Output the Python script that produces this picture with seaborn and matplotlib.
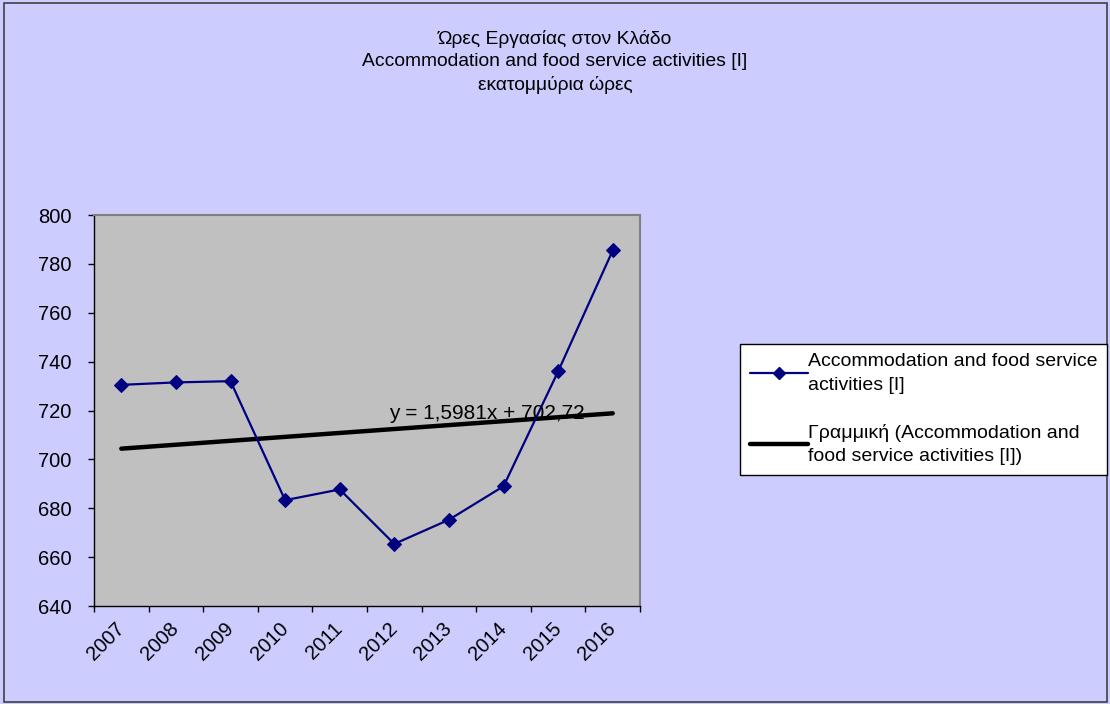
import numpy as np
import pandas as pd
import matplotlib
matplotlib.use("Agg")
import matplotlib.pyplot as plt
import seaborn as sns
from matplotlib.lines import Line2D
from matplotlib.patches import Rectangle

# data
years = ["2007", "2008", "2009", "2010", "2011", "2012", "2013", "2014", "2015", "2016"]
hours = [730.5, 731.5, 732.0, 683.3, 687.7, 665.4, 675.3, 689.0, 736.0, 785.5]
equation = "y = 1,5981x + 702,72"
title_lines = ["Ώρες Εργασίας στον Κλάδο",
               "Accommodation and food service activities [I]",
               "εκατομμύρια ώρες"]
series_label = "Accommodation and food service\nactivities [I]"
trend_label = "Γραμμική (Accommodation and\nfood service activities [I])"

df = pd.DataFrame({"pos": np.arange(len(years)), "hours": hours})

sns.set_style("white")
plt.rcParams["font.family"] = ["Liberation Sans", "DejaVu Sans"]
plt.rcParams["text.color"] = "black"
plt.rcParams["xtick.color"] = "black"
plt.rcParams["ytick.color"] = "black"

fig = plt.figure(figsize=(11.1, 7.04), dpi=100)
fig.patch.set_facecolor("#CCCCFF")
fig.patches.append(Rectangle((0.004, 0.003), 0.993, 0.993, transform=fig.transFigure,
                             fill=False, edgecolor="#404040", linewidth=1.2))

ax = fig.add_axes([0.0847, 0.1392, 0.4919, 0.5554])
ax.set_facecolor("#C0C0C0")

# trend line (linear fit over the series)
sns.regplot(data=df, x="pos", y="hours", ax=ax, scatter=False, ci=None,
            line_kws={"color": "black", "linewidth": 3.2, "solid_capstyle": "round"})
sns.lineplot(data=df, x="pos", y="hours", ax=ax, color="#000080", linewidth=1.6,
             marker="D", markersize=7, markeredgecolor="#000080")

ax.set_xlim(-0.5, len(years) - 0.5)
ax.set_ylim(640, 800)
ax.set_yticks(np.arange(640, 801, 20))
ax.set_xticks(np.arange(len(years)))
ax.set_xticklabels(years, rotation=45, ha="right", va="center", rotation_mode="anchor",
                   fontsize=14.5)
ax.set_xticks(np.arange(-0.5, len(years), 1), minor=True)
ax.tick_params(axis="x", which="major", length=0, pad=14)
ax.tick_params(axis="x", which="minor", length=4, width=1, color="black", direction="out", bottom=True)
ax.tick_params(axis="y", length=4, width=1, color="black", direction="out", left=True,
               labelsize=14.5, pad=12)
ax.set_xlabel("")
ax.set_ylabel("")
for s in ["top", "right"]:
    ax.spines[s].set_color("#808080")
    ax.spines[s].set_linewidth(1.5)
for s in ["left", "bottom"]:
    ax.spines[s].set_color("black")
    ax.spines[s].set_linewidth(1)

ax.text(6.7, 718.6, equation, fontsize=15, ha="center", va="center")

fig.text(0.5, 0.958, "\n".join(title_lines), ha="center", va="top", fontsize=13.9, linespacing=1.42)

handles = [Line2D([], [], color="#000080", linewidth=1.6, marker="D", markersize=6),
           Line2D([], [], color="black", linewidth=3.2)]
leg = fig.legend(handles, [series_label, trend_label], loc="upper left",
                 bbox_to_anchor=(0.6667, 0.512), borderaxespad=0, fontsize=14, frameon=True,
                 fancybox=False, framealpha=1, handlelength=3.0, handletextpad=0.0,
                 labelspacing=1.55, borderpad=0.5)
for t in leg.get_texts():
    t.set_linespacing(1.5)
leg.get_frame().set_edgecolor("black")
leg.get_frame().set_facecolor("white")
leg.get_frame().set_linewidth(1)

fig.savefig("out.png", dpi=100, facecolor=fig.get_facecolor())
